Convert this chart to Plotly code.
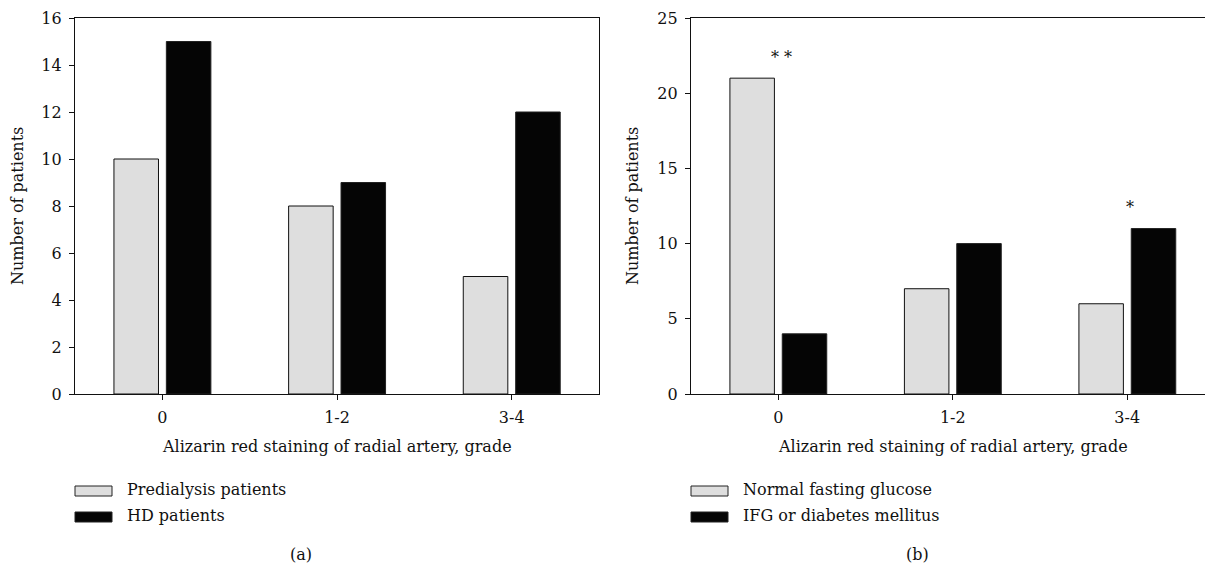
import plotly.graph_objects as go

# ---- data ----
categories = ["0", "1-2", "3-4"]
predialysis = [10, 8, 5]
hd = [15, 9, 12]
normal_glucose = [21, 7, 6]
ifg_dm = [4, 10, 11]
sig_b_cats = ["0", "3-4"]
sig_b_text = ["* *", "*"]
sig_b_y = [22.4, 12.4]

W, H = 1205, 566
FONT = "DejaVu Serif"
FS = 16
GREY = "#dedede"
BLACK = "#050505"

def px(x):
    return x / W

def py(y):
    return 1 - y / H

fig = go.Figure()

def add_pair(xa, ya, g_vals, b_vals):
    fig.add_trace(go.Bar(x=categories, y=g_vals, xaxis=xa, yaxis=ya,
                         marker=dict(color=GREY, line=dict(color="#111", width=1)),
                         width=0.255, offset=-0.277, showlegend=False))
    fig.add_trace(go.Bar(x=categories, y=b_vals, xaxis=xa, yaxis=ya,
                         marker=dict(color=BLACK, line=dict(color="#222", width=1)),
                         width=0.255, offset=0.023, showlegend=False))

add_pair("x", "y", predialysis, hd)
add_pair("x2", "y2", normal_glucose, ifg_dm)

axis_common = dict(showline=True, linecolor="#111", linewidth=1.4, ticks="outside",
                   ticklen=5, tickwidth=1.2, tickcolor="#111", showgrid=False,
                   zeroline=False, automargin=False, ticklabelstandoff=4,
                   tickfont=dict(family=FONT, size=FS, color="#111"))

ydom = [py(394), py(18)]
fig.update_layout(
    template="none",
    width=W, height=H, margin=dict(l=0, r=0, t=0, b=0, pad=0),
    paper_bgcolor="white", plot_bgcolor="white",
    barmode="overlay", showlegend=False,
    font=dict(family=FONT, size=FS, color="#111"),
    xaxis=dict(type="category", domain=[px(75), px(599)], anchor="y", range=[-0.5, 2.5],
               mirror=True, **axis_common),
    yaxis=dict(domain=ydom, anchor="x", range=[0, 16], dtick=2, mirror=True,
               **axis_common),
    xaxis2=dict(type="category", domain=[px(691), 1.0], anchor="y2", range=[-0.5, 2.4456],
                mirror=True, **axis_common),
    yaxis2=dict(domain=ydom, anchor="x2", range=[0, 25], dtick=5, mirror=False,
                **axis_common),
)

ann = []
# axis titles
for xref, yref, xc, ytx in [("x", "y", 1, 18), ("x2", "y2", 1, 633)]:
    ann.append(dict(text="Alizarin red staining of radial artery, grade", x=xc, xref=xref,
                    y=py(447), yref="paper", showarrow=False, font=dict(size=FS),
                    xanchor="center", yanchor="middle"))
    ann.append(dict(text="Number of patients", x=px(ytx), xref="paper", y=sum(ydom) / 2,
                    yref="paper", textangle=-90, showarrow=False, font=dict(size=FS),
                    xanchor="center", yanchor="middle"))
# significance markers
for c, t, yv in zip(sig_b_cats, sig_b_text, sig_b_y):
    ann.append(dict(text=t, x=c, xref="x2", y=yv, yref="y2", showarrow=False,
                    font=dict(size=FS), xanchor="center", yanchor="middle", xshift=3))
# panel letters
ann.append(dict(text="(a)", x=px(301), xref="paper", y=py(554), yref="paper",
                showarrow=False, font=dict(size=FS), xanchor="center", yanchor="middle"))
ann.append(dict(text="(b)", x=px(917), xref="paper", y=py(554), yref="paper",
                showarrow=False, font=dict(size=FS), xanchor="center", yanchor="middle"))

# custom legends
shapes = []
legends = [(75, ["Predialysis patients", "HD patients"]),
           (691, ["Normal fasting glucose", "IFG or diabetes mellitus"])]
for x0, names in legends:
    for i, (name, col) in enumerate(zip(names, [GREY, BLACK])):
        y0 = 486 + i * 26
        shapes.append(dict(type="rect", xref="paper", yref="paper",
                           x0=px(x0), x1=px(x0 + 37), y0=py(y0), y1=py(y0 + 10),
                           fillcolor=col, line=dict(color="#222", width=1)))
        ann.append(dict(text=name, x=px(x0 + 50), xref="paper", y=py(y0 + 3),
                        yref="paper", showarrow=False, xanchor="left",
                        yanchor="middle", font=dict(size=FS)))

fig.update_layout(annotations=ann, shapes=shapes)
fig.write_html("out.html", config={"displayModeBar": False},
               post_script="document.body.style.margin='0px';document.body.style.overflow='hidden';")
